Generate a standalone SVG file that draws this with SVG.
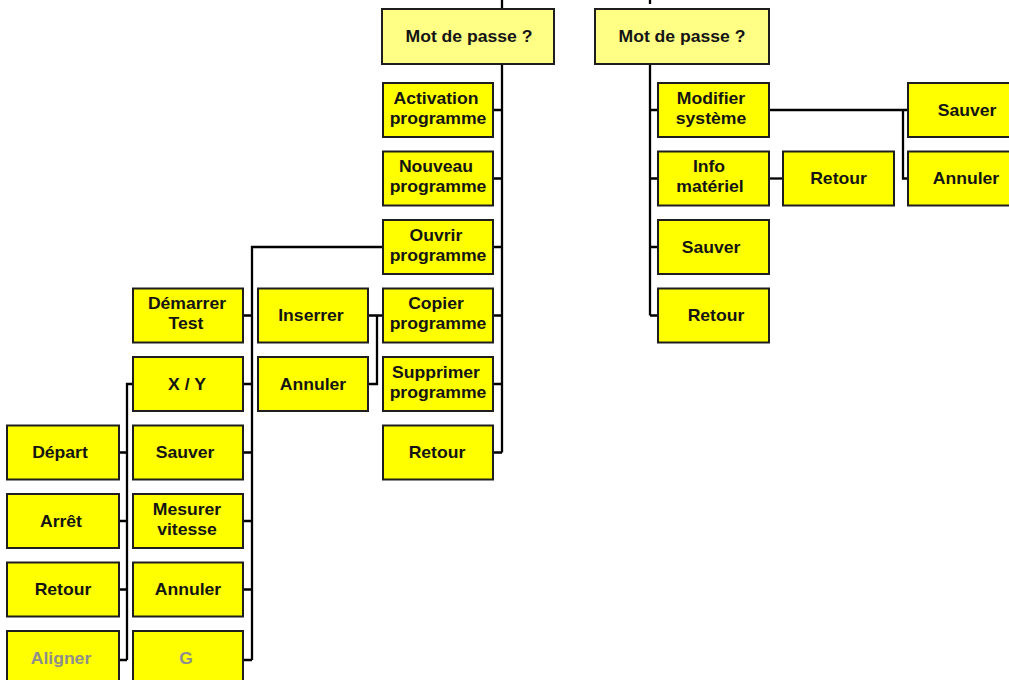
<svg xmlns="http://www.w3.org/2000/svg" width="1009" height="680" viewBox="0 0 1009 680">
  <style>
    .box { fill: #ffff00; stroke: #1e1e1e; stroke-width: 2; }
    .box.top { fill: #ffff86; }
    .t { font-family: "Liberation Sans", Arial, sans-serif; font-weight: bold; font-size: 16px; fill: #141414; text-anchor: middle;
         transform-box: fill-box; transform-origin: center; transform: scaleX(1.1); }
    .t.dim { fill: #8e8e8e; }
    .wire { fill: none; stroke: #000; stroke-width: 2.3; }
  </style>
  <rect width="1009" height="680" fill="#ffffff"/>

  <!-- connectors -->
  <g id="connectors" class="wire">
    <!-- left menu trunk -->
    <path d="M502 0V9M502 64V452.5M493 110H502M493 178.5H502M493 247H502M493 315.5H502M493 384H502M493 452.5H502"/>
    <!-- Ouvrir programme branch -->
    <path d="M383 247H252V660M243 315.5H252M243 384H252M243 452.5H252M243 521H252M243 589.5H252M243 660H252"/>
    <!-- X / Y branch -->
    <path d="M133 384H127V660M119 452.5H127M119 521H127M119 589.5H127M119 660H127"/>
    <!-- Copier programme branch -->
    <path d="M368 315.5H383M377 315.5V384H368"/>
    <!-- right menu trunk -->
    <path d="M650 0V4M650 64V315.5M650 110H658M650 178.5H658M650 247H658M650 315.5H658"/>
    <!-- Modifier systeme branch -->
    <path d="M769 110H908M903 110V178.5H908"/>
    <!-- Info materiel branch -->
    <path d="M769 178.5H783"/>
  </g>

  <!-- top entries -->
  <g id="mdp-left"><rect class="box top" x="382" y="9" width="172" height="55"/><text class="t" x="469" y="42.5">Mot de passe ?</text></g>
  <g id="mdp-right"><rect class="box top" x="595" y="9" width="174" height="55"/><text class="t" x="682" y="42.5">Mot de passe ?</text></g>

  <!-- column 4 -->
  <g id="activation"><rect class="box" x="383" y="83" width="110" height="54"/><text class="t" x="436" y="104">Activation</text><text class="t" x="438" y="124">programme</text></g>
  <g id="nouveau"><rect class="box" x="383" y="151.5" width="110" height="54"/><text class="t" x="436" y="172.5">Nouveau</text><text class="t" x="438" y="192.5">programme</text></g>
  <g id="ouvrir"><rect class="box" x="383" y="220" width="110" height="54"/><text class="t" x="436" y="241">Ouvrir</text><text class="t" x="438" y="261">programme</text></g>
  <g id="copier"><rect class="box" x="383" y="288.5" width="110" height="54"/><text class="t" x="436" y="309.5">Copier</text><text class="t" x="438" y="329.5">programme</text></g>
  <g id="supprimer"><rect class="box" x="383" y="357" width="110" height="54"/><text class="t" x="436" y="378">Supprimer</text><text class="t" x="438" y="398">programme</text></g>
  <g id="retour-prog"><rect class="box" x="383" y="425.5" width="110" height="54"/><text class="t" x="437" y="458.5">Retour</text></g>

  <!-- column 3 -->
  <g id="inserrer"><rect class="box" x="258" y="288.5" width="110" height="54"/><text class="t" x="311" y="321.5">Inserrer</text></g>
  <g id="annuler-copie"><rect class="box" x="258" y="357" width="110" height="54"/><text class="t" x="313" y="390">Annuler</text></g>

  <!-- column 2 -->
  <g id="demarrer"><rect class="box" x="133" y="288.5" width="110" height="54"/><text class="t" x="187" y="309.5">Démarrer</text><text class="t" x="186" y="329.5">Test</text></g>
  <g id="xy"><rect class="box" x="133" y="357" width="110" height="54"/><text class="t" x="187" y="390">X / Y</text></g>
  <g id="sauver-prog"><rect class="box" x="133" y="425.5" width="110" height="54"/><text class="t" x="185" y="458.5">Sauver</text></g>
  <g id="mesurer"><rect class="box" x="133" y="494" width="110" height="54"/><text class="t" x="187" y="515">Mesurer</text><text class="t" x="187" y="535">vitesse</text></g>
  <g id="annuler-prog"><rect class="box" x="133" y="562.5" width="110" height="54"/><text class="t" x="188" y="595.5">Annuler</text></g>
  <g id="g"><rect class="box" x="133" y="631" width="110" height="58"/><text class="t dim" x="186" y="664">G</text></g>

  <!-- column 1 -->
  <g id="depart"><rect class="box" x="7" y="425.5" width="112" height="54"/><text class="t" x="60" y="458.5">Départ</text></g>
  <g id="arret"><rect class="box" x="7" y="494" width="112" height="54"/><text class="t" x="61" y="527">Arrêt</text></g>
  <g id="retour-xy"><rect class="box" x="7" y="562.5" width="112" height="54"/><text class="t" x="63" y="595.5">Retour</text></g>
  <g id="aligner"><rect class="box" x="7" y="631" width="112" height="58"/><text class="t dim" x="61" y="664">Aligner</text></g>

  <!-- right menu -->
  <g id="modifier"><rect class="box" x="658" y="83" width="111" height="54"/><text class="t" x="711" y="104">Modifier</text><text class="t" x="711" y="124">système</text></g>
  <g id="info"><rect class="box" x="658" y="151.5" width="111" height="54"/><text class="t" x="709" y="172.5">Info</text><text class="t" x="710" y="192.5">matériel</text></g>
  <g id="sauver-sys"><rect class="box" x="658" y="220" width="111" height="54"/><text class="t" x="711" y="253">Sauver</text></g>
  <g id="retour-sys"><rect class="box" x="658" y="288.5" width="111" height="54"/><text class="t" x="716" y="321.5">Retour</text></g>
  <g id="retour-info"><rect class="box" x="783" y="151.5" width="111" height="54"/><text class="t" x="838.5" y="184.5">Retour</text></g>
  <g id="sauver-modif"><rect class="box" x="908" y="83" width="112" height="54"/><text class="t" x="967" y="116">Sauver</text></g>
  <g id="annuler-modif"><rect class="box" x="908" y="151.5" width="112" height="54"/><text class="t" x="966" y="184.5">Annuler</text></g>
</svg>
